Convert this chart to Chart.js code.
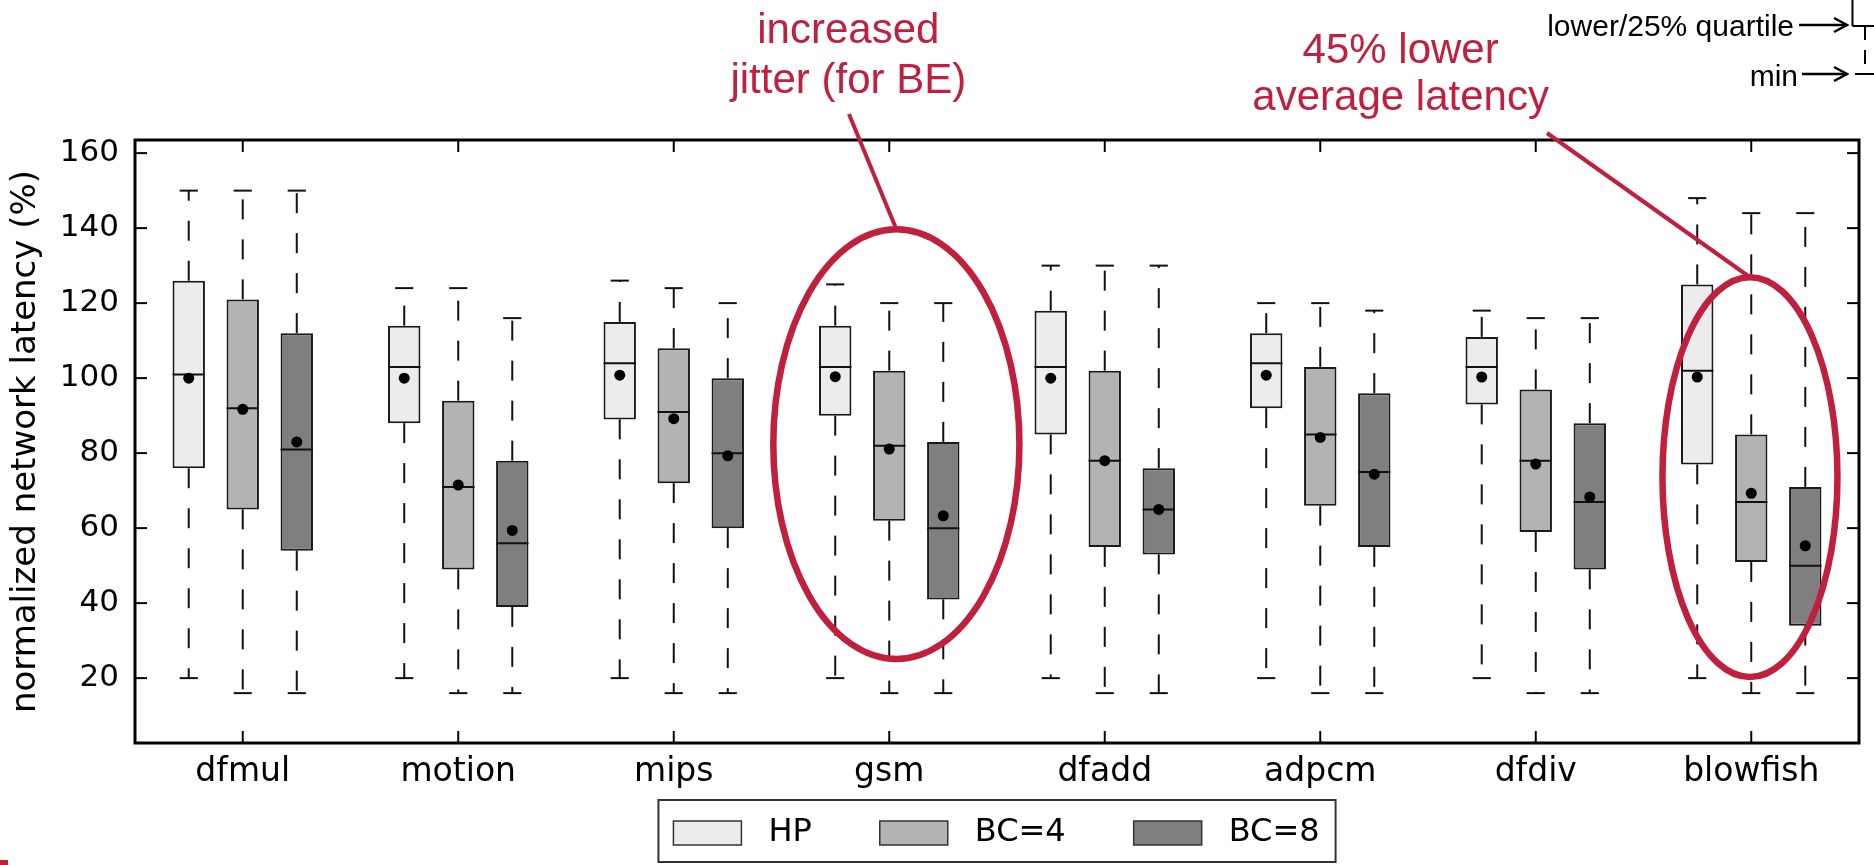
<!doctype html>
<html lang="en">
<head>
<meta charset="UTF-8">
<title>Normalized network latency</title>
<script src="https://cdn.jsdelivr.net/npm/chart.js"></script>
<style>
  html, body { margin: 0; padding: 0; background: #fff; }
</style>
</head>
<body>
<canvas id="latency" width="1874" height="865"></canvas>
<script>
  const categories = ['dfmul', 'motion', 'mips', 'gsm', 'dfadd', 'adpcm', 'dfdiv', 'blowfish'];
  const yTicks = [20, 40, 60, 80, 100, 120, 140, 160];

  // HP
  const hpMin = [20, 20, 20, 20, 20, 20, 20, 20];
  const hpQ1 = [76, 88, 89, 90, 85, 92, 93, 77];
  const hpMedian = [101, 103, 104, 103, 103, 104, 103, 102];
  const hpQ3 = [126, 114, 115, 114, 118, 112, 111, 125];
  const hpMax = [150, 124, 126, 125, 130, 120, 118, 148];
  const hpMean = [100, 100, 100.8, 100.4, 100, 100.8, 100.3, 100.3];

  // BC=4
  const bc4Min = [16, 16, 16, 16, 16, 16, 16, 16];
  const bc4Q1 = [65, 49, 72, 62, 55, 66, 59, 51];
  const bc4Median = [92, 71, 91, 82, 78, 85, 78, 67];
  const bc4Q3 = [121, 94, 108, 102, 102, 103, 97, 85];
  const bc4Max = [150, 124, 124, 120, 130, 120, 116, 144];
  const bc4Mean = [91.7, 71.5, 89.2, 81.1, 78, 84.2, 77.1, 69.3];

  // BC=8
  const bc8Min = [16, 16, 16, 16, 16, 16, 16, 16];
  const bc8Q1 = [54, 39, 60, 41, 53, 55, 49, 34];
  const bc8Median = [81, 56, 80, 60, 65, 75, 67, 50];
  const bc8Q3 = [112, 78, 100, 83, 76, 96, 88, 71];
  const bc8Max = [150, 116, 120, 120, 130, 118, 116, 144];
  const bc8Mean = [83, 59.4, 79.3, 63.3, 65, 74.4, 68.3, 55.3];

  const series = [
    {label: 'HP', color: '#ececec', min: hpMin, q1: hpQ1, median: hpMedian, q3: hpQ3, max: hpMax, mean: hpMean},
    {label: 'BC=4', color: '#b3b3b3', min: bc4Min, q1: bc4Q1, median: bc4Median, q3: bc4Q3, max: bc4Max, mean: bc4Mean},
    {label: 'BC=8', color: '#7f7f7f', min: bc8Min, q1: bc8Q1, median: bc8Median, q3: bc8Q3, max: bc8Max, mean: bc8Mean},
  ];

  // red call-outs: text centre and ring given in category index / value units
  const notes = [
    {lines: ['increased', 'jitter (for BE)'], textAt: 2.81, baselines: [43, 93], from: [2.813, 114],
      ring: {x: 3.033, y: 82.4, rx: 0.571, ry: 57.3}},
    {lines: ['45% lower', 'average latency'], textAt: 5.373, baselines: [63, 110], from: [6.052, 133],
      ring: {x: 6.994, y: 73.6, rx: 0.406, ry: 53.3}},
  ];

  const red = '#c0203e';
  const ink = '#111';

  function line(ctx, x1, y1, x2, y2) {
    ctx.beginPath();
    ctx.moveTo(x1, y1);
    ctx.lineTo(x2, y2);
    ctx.stroke();
  }

  function arrow(ctx, x1, x2, y) {
    line(ctx, x1, y, x2, y);
    ctx.beginPath();
    ctx.moveTo(x2 - 13, y - 7);
    ctx.lineTo(x2, y);
    ctx.lineTo(x2 - 13, y + 7);
    ctx.stroke();
  }

  const boxParts = {
    id: 'boxParts',
    afterDatasetsDraw(chart) {
      const {ctx} = chart;
      const y = chart.scales.y;
      ctx.save();
      ctx.strokeStyle = ink;
      ctx.fillStyle = '#000';
      ctx.lineWidth = 2;
      series.forEach((s, d) => {
        chart.getDatasetMeta(d).data.forEach((bar, i) => {
          const half = bar.width / 2;
          const cap = bar.width * 0.28;
          const yMin = y.getPixelForValue(s.min[i]);
          const yQ1 = y.getPixelForValue(s.q1[i]);
          const yMed = y.getPixelForValue(s.median[i]);
          const yQ3 = y.getPixelForValue(s.q3[i]);
          const yMax = y.getPixelForValue(s.max[i]);

          ctx.setLineDash([20, 20]);
          line(ctx, bar.x, yQ3, bar.x, yMax);
          line(ctx, bar.x, yQ1, bar.x, yMin);
          ctx.setLineDash([]);
          line(ctx, bar.x - cap, yMax, bar.x + cap, yMax);
          line(ctx, bar.x - cap, yMin, bar.x + cap, yMin);
          line(ctx, bar.x - half, yMed, bar.x + half, yMed);

          ctx.beginPath();
          ctx.arc(bar.x, y.getPixelForValue(s.mean[i]), 5.5, 0, Math.PI * 2);
          ctx.fill();
        });
      });
      ctx.restore();
    },
    afterDraw(chart) {
      const {ctx, chartArea: a} = chart;
      const x = chart.scales.x;
      const y = chart.scales.y;
      ctx.save();

      // frame with inward ticks
      ctx.strokeStyle = '#000';
      ctx.lineWidth = 2;
      categories.forEach((c, i) => {
        const px = x.getPixelForTick(i);
        line(ctx, px, a.bottom, px, a.bottom - 12);
        line(ctx, px, a.top, px, a.top + 12);
      });
      yTicks.forEach(v => {
        const py = y.getPixelForValue(v);
        line(ctx, a.left, py, a.left + 12, py);
        line(ctx, a.right, py, a.right - 12, py);
      });
      ctx.lineWidth = 3;
      ctx.strokeRect(a.left, a.top, a.right - a.left, a.bottom - a.top);

      // legend
      ctx.font = '32px "DejaVu Sans"';
      const sw = 68, sh = 24, gapText = 27, gapItem = 68, padL = 15, padR = 16;
      const widths = series.map(s => sw + gapText + ctx.measureText(s.label).width);
      const total = padL + padR + widths.reduce((p, w) => p + w, 0) + gapItem * (series.length - 1);
      let lx = (a.left + a.right) / 2 - total / 2;
      const frameTop = a.bottom + 57;
      const midY = frameTop + 33;
      ctx.lineWidth = 2;
      ctx.strokeStyle = '#333';
      ctx.strokeRect(lx, frameTop, total, 62);
      lx += padL;
      ctx.textBaseline = 'middle';
      ctx.textAlign = 'left';
      series.forEach((s, i) => {
        ctx.fillStyle = s.color;
        ctx.fillRect(lx, midY - sh / 2, sw, sh);
        ctx.lineWidth = 1.5;
        ctx.strokeRect(lx, midY - sh / 2, sw, sh);
        ctx.fillStyle = '#000';
        ctx.fillText(s.label, lx + sw + gapText, midY);
        lx += widths[i] + gapItem;
      });

      // red call-outs
      ctx.strokeStyle = red;
      ctx.fillStyle = red;
      ctx.font = '42px "Liberation Sans", Arial, sans-serif';
      ctx.textAlign = 'center';
      ctx.textBaseline = 'alphabetic';
      notes.forEach(n => {
        const tx = x.getPixelForValue(n.textAt);
        n.lines.forEach((t, k) => ctx.fillText(t, tx, n.baselines[k]));
        const cx = x.getPixelForValue(n.ring.x);
        const cy = y.getPixelForValue(n.ring.y);
        const rx = x.getPixelForValue(n.ring.x + n.ring.rx) - cx;
        const ry = y.getPixelForValue(n.ring.y - n.ring.ry) - cy;
        ctx.lineWidth = 6.5;
        ctx.beginPath();
        ctx.ellipse(cx, cy, rx, ry, 0, 0, Math.PI * 2);
        ctx.stroke();
        ctx.lineWidth = 4;
        line(ctx, x.getPixelForValue(n.from[0]), n.from[1], cx, cy - ry);
      });

      // clipped box-plot key at the top right
      const W = chart.width;
      ctx.strokeStyle = '#000';
      ctx.fillStyle = '#000';
      ctx.font = '30px "Liberation Sans", Arial, sans-serif';
      ctx.textAlign = 'right';
      ctx.fillText('lower/25% quartile', W - 80, 36);
      ctx.fillText('min', W - 76, 86);
      ctx.lineWidth = 2.5;
      arrow(ctx, W - 75, W - 27, 25);
      arrow(ctx, W - 72, W - 27, 74);
      ctx.lineWidth = 2;
      line(ctx, W - 21.5, 0, W - 21.5, 26);
      line(ctx, W - 21.5, 26, W, 26);
      ctx.setLineDash([14, 10]);
      line(ctx, W - 9, 26, W - 9, 74);
      ctx.setLineDash([]);
      line(ctx, W - 19, 74, W, 74);

      ctx.fillStyle = red;
      ctx.fillRect(0, chart.height - 5, 8, 5);
      ctx.restore();
    }
  };

  new Chart(document.getElementById('latency'), {
    type: 'bar',
    data: {
      labels: categories,
      datasets: series.map(s => ({
        label: s.label,
        data: s.q1.map((v, i) => [v, s.q3[i]]),
        backgroundColor: s.color,
        borderColor: '#1a1a1a',
        borderWidth: 2,
        borderSkipped: false,
        categoryPercentage: 0.752,
        barPercentage: 0.6
      }))
    },
    options: {
      responsive: false,
      animation: false,
      devicePixelRatio: 1,
      layout: {padding: {top: 140, right: 15, bottom: 0, left: 0}},
      scales: {
        x: {
          grid: {display: false, drawTicks: false},
          border: {display: false},
          ticks: {color: '#000', padding: 10, font: {family: 'DejaVu Sans', size: 33}},
          afterFit(scale) { scale.height = 122; }
        },
        y: {
          min: 2.7,
          max: 163.5,
          afterBuildTicks(scale) { scale.ticks = yTicks.map(v => ({value: v})); },
          grid: {display: false, drawTicks: false},
          border: {display: false},
          ticks: {color: '#000', padding: 16, font: {family: 'DejaVu Sans', size: 31}},
          title: {
            display: true,
            text: 'normalized network latency (%)',
            color: '#000',
            font: {family: 'DejaVu Sans', size: 34},
            padding: {top: 6, bottom: 0}
          },
          afterFit(scale) { scale.width = 135; }
        }
      },
      plugins: {
        legend: {display: false},
        tooltip: {enabled: false}
      }
    },
    plugins: [boxParts]
  });
</script>
</body>
</html>
